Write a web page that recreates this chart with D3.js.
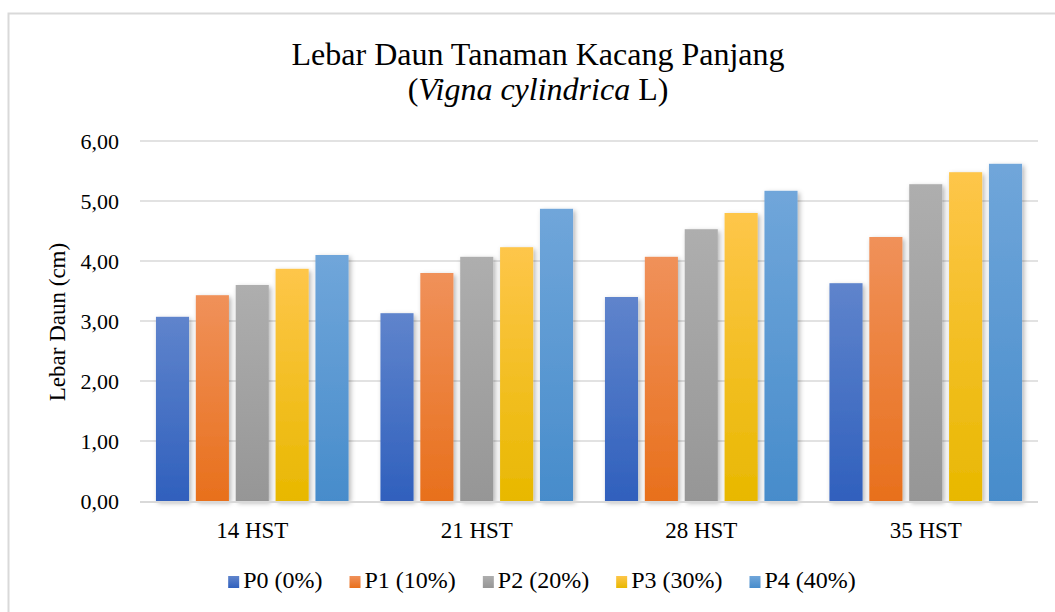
<!DOCTYPE html>
<html>
<head>
<meta charset="utf-8">
<script src="https://cdn.jsdelivr.net/npm/d3@7"></script>
<style>
  body { margin: 0; background: #fff; }
  svg text { font-family: "Liberation Serif", "Times New Roman", serif; fill: #000; }
</style>
</head>
<body>
<div id="chart"></div>
<script>
// data
var categories = ["14 HST", "21 HST", "28 HST", "35 HST"];
var series = ["P0 (0%)", "P1 (10%)", "P2 (20%)", "P3 (30%)", "P4 (40%)"];
var p0 = [3.07, 3.13, 3.40, 3.63];
var p1 = [3.43, 3.80, 4.07, 4.40];
var p2 = [3.60, 4.07, 4.53, 5.28];
var p3 = [3.87, 4.23, 4.80, 5.48];
var p4 = [4.10, 4.87, 5.17, 5.62];
var yTicks = [0, 1, 2, 3, 4, 5, 6];

var values = [p0, p1, p2, p3, p4];
// top / bottom of the gradient for each series
var colTop = ["#5f84cc", "#f0915a", "#aeaeae", "#fec64a", "#70a6da"];
var colBot = ["#3060bd", "#e8701c", "#969696", "#e8b800", "#478ccb"];
var serif = "'Liberation Serif', 'Times New Roman', serif";

var W = 1055, H = 612;
var svg = d3.select("#chart").append("svg")
    .attr("width", W).attr("height", H);

var defs = svg.append("defs");
series.forEach(function(s, i) {
  var g = defs.append("linearGradient").attr("id", "grad" + i)
      .attr("x1", 0).attr("y1", 0).attr("x2", 0).attr("y2", 1);
  g.append("stop").attr("offset", "0%").attr("stop-color", colTop[i]);
  g.append("stop").attr("offset", "100%").attr("stop-color", colBot[i]);
});
var f = defs.append("filter").attr("id", "shadow")
    .attr("x", "-20%").attr("y", "-10%").attr("width", "150%").attr("height", "130%");
f.append("feDropShadow").attr("dx", 2).attr("dy", 2)
    .attr("stdDeviation", 2.5).attr("flood-color", "#000").attr("flood-opacity", 0.3);

// chart frame
svg.append("rect")
    .attr("x", 8.5).attr("y", 13.5).attr("width", 1100).attr("height", 700)
    .attr("fill", "none").attr("stroke", "#d9d9d9").attr("stroke-width", 2);

var x0 = d3.scaleBand().domain(categories).range([140, 1038]).padding(0);
var x1 = d3.scaleBand().domain(d3.range(series.length))
    .range([0, x0.bandwidth()]).paddingInner(0.17).paddingOuter(0.4);
var y = d3.scaleLinear().domain([0, 6]).range([501, 141]);

// gridlines
svg.append("g").selectAll("line")
  .data(yTicks.filter(function(d) { return d > 0; }))
  .enter().append("line")
    .attr("x1", 140).attr("x2", 1038)
    .attr("y1", function(d) { return y(d); })
    .attr("y2", function(d) { return y(d); })
    .attr("stroke", "#d9d9d9").attr("stroke-width", 1.5);

// y axis labels
var yAxis = d3.axisLeft(y).tickValues(yTicks).tickSize(0).tickPadding(0)
    .tickFormat(function(d) { return d3.format(".2f")(d).replace(".", ","); });
var ya = svg.append("g").attr("transform", "translate(119,0)").call(yAxis)
    .attr("font-family", serif);
ya.select(".domain").remove();
ya.selectAll("text").style("font-size", "22px").attr("dy", "0.33em");

// bars
var groups = svg.append("g").selectAll("g")
  .data(categories).enter().append("g")
    .attr("transform", function(d) { return "translate(" + x0(d) + ",0)"; });

groups.selectAll("rect")
  .data(function(d, ci) { return values.map(function(v, si) { return {s: si, v: v[ci]}; }); })
  .enter().append("rect")
    .attr("x", function(d) { return x1(d.s); })
    .attr("width", x1.bandwidth())
    .attr("y", function(d) { return y(d.v); })
    .attr("height", function(d) { return y(0) - y(d.v); })
    .attr("fill", function(d) { return "url(#grad" + d.s + ")"; })
    .attr("filter", "url(#shadow)");

// baseline
svg.append("line")
    .attr("x1", 140).attr("x2", 1038).attr("y1", 502).attr("y2", 502)
    .attr("stroke", "#d9d9d9").attr("stroke-width", 2);

// x axis labels
var xAxis = d3.axisBottom(x0).tickSize(0).tickPadding(0);
var xa = svg.append("g").attr("transform", "translate(0,538)").call(xAxis)
    .attr("font-family", serif);
xa.select(".domain").remove();
xa.selectAll("text").style("font-size", "23px").attr("dy", 0);

// y axis title
svg.append("text")
    .attr("transform", "translate(65,322) rotate(-90)")
    .attr("text-anchor", "middle")
    .style("font-size", "23px")
    .text("Lebar Daun (cm)");

// title
svg.append("text")
    .attr("x", 538).attr("y", 65).attr("text-anchor", "middle")
    .style("font-size", "32px")
    .text("Lebar Daun Tanaman Kacang Panjang");
var t2 = svg.append("text")
    .attr("x", 538).attr("y", 100).attr("text-anchor", "middle")
    .style("font-size", "32px");
t2.append("tspan").text("(");
t2.append("tspan").style("font-style", "italic").text("Vigna cylindrica");
t2.append("tspan").text(" L)");

// legend
var leg = svg.append("g");
var item = leg.selectAll("g").data(series).enter().append("g");
item.append("rect")
    .attr("y", 576).attr("width", 11).attr("height", 12)
    .attr("fill", function(d, i) { return "url(#grad" + i + ")"; });
item.append("text")
    .attr("x", 15).attr("y", 588)
    .style("font-size", "24px")
    .text(function(d) { return d; });
var pos = 0;
item.each(function() {
  var w = d3.select(this).select("text").node().getComputedTextLength();
  d3.select(this).attr("transform", "translate(" + pos + ",0)");
  pos += 15 + w + 27;
});
var total = pos - 27;
leg.attr("transform", "translate(" + (542 - total / 2) + ",0)");
</script>
</body>
</html>
